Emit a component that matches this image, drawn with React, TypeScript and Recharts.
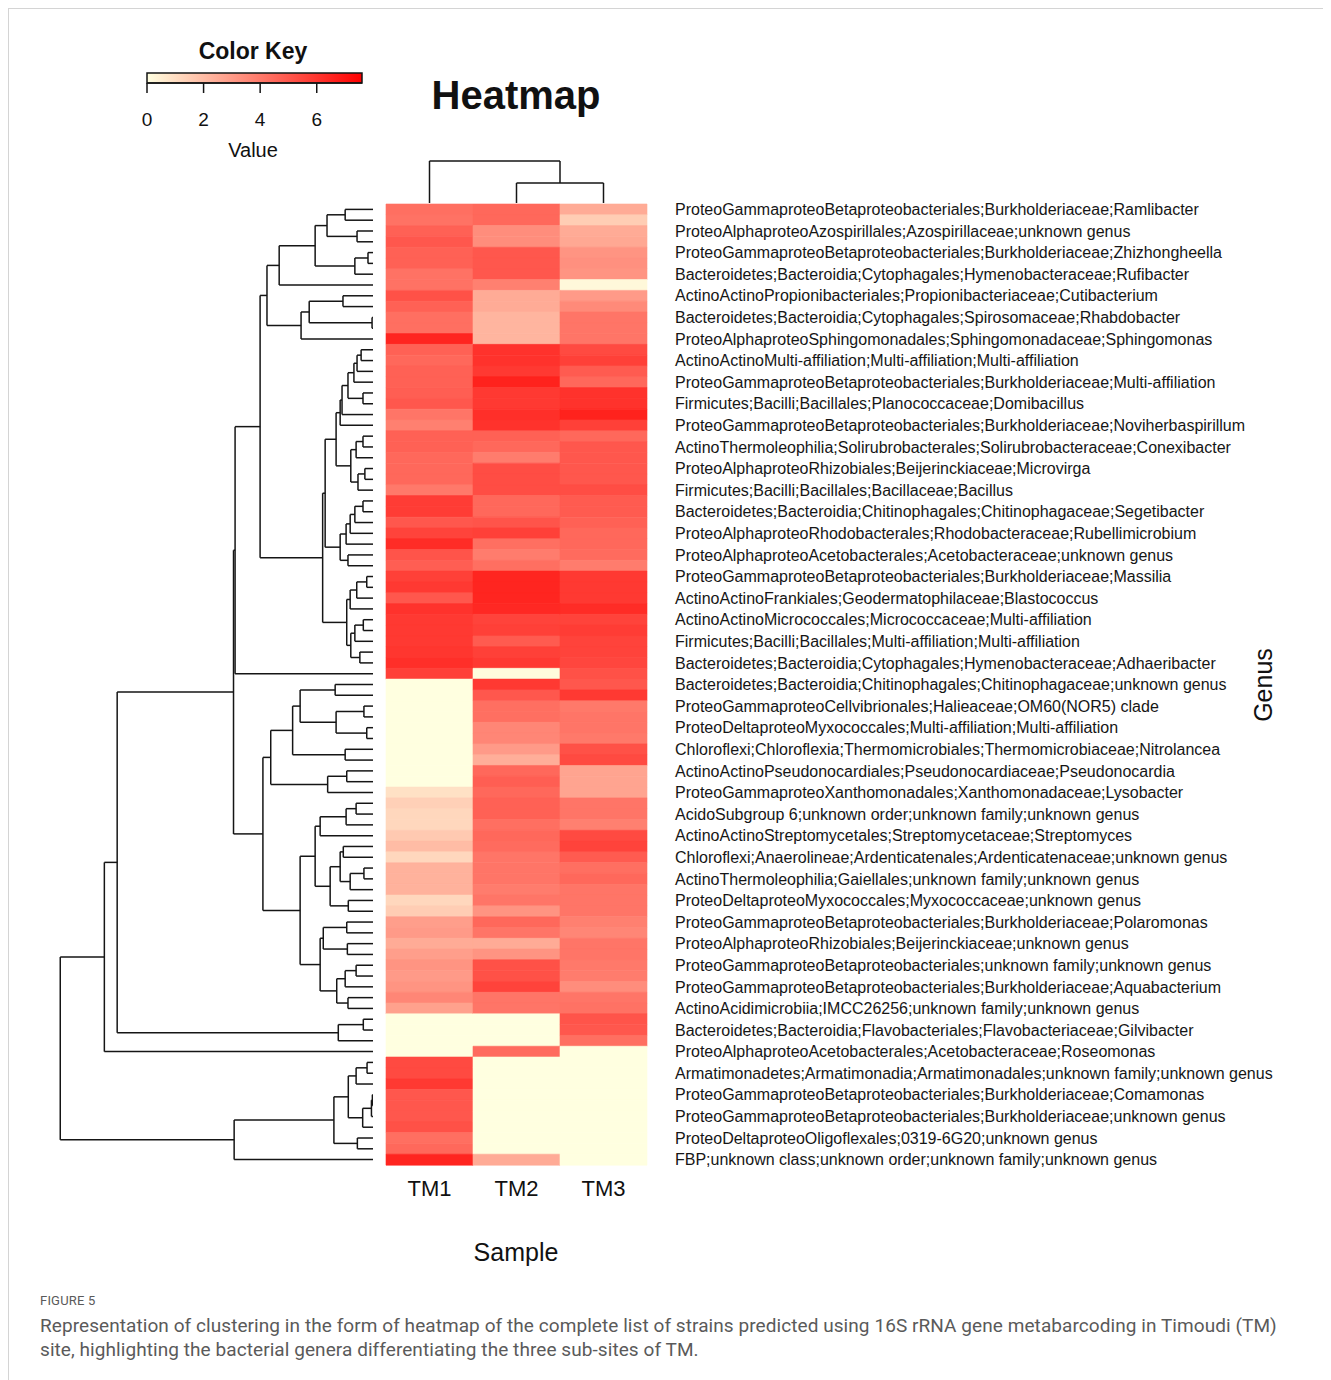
import React from 'react';
import { BarChart, Bar, XAxis, YAxis, Cell, ScatterChart, Scatter, ReferenceLine } from 'recharts';

const samples = ['TM1', 'TM2', 'TM3'];

const genusLabels = [
  'ProteoGammaproteoBetaproteobacteriales;Burkholderiaceae;Ramlibacter',
  'ProteoAlphaproteoAzospirillales;Azospirillaceae;unknown genus',
  'ProteoGammaproteoBetaproteobacteriales;Burkholderiaceae;Zhizhongheella',
  'Bacteroidetes;Bacteroidia;Cytophagales;Hymenobacteraceae;Rufibacter',
  'ActinoActinoPropionibacteriales;Propionibacteriaceae;Cutibacterium',
  'Bacteroidetes;Bacteroidia;Cytophagales;Spirosomaceae;Rhabdobacter',
  'ProteoAlphaproteoSphingomonadales;Sphingomonadaceae;Sphingomonas',
  'ActinoActinoMulti-affiliation;Multi-affiliation;Multi-affiliation',
  'ProteoGammaproteoBetaproteobacteriales;Burkholderiaceae;Multi-affiliation',
  'Firmicutes;Bacilli;Bacillales;Planococcaceae;Domibacillus',
  'ProteoGammaproteoBetaproteobacteriales;Burkholderiaceae;Noviherbaspirillum',
  'ActinoThermoleophilia;Solirubrobacterales;Solirubrobacteraceae;Conexibacter',
  'ProteoAlphaproteoRhizobiales;Beijerinckiaceae;Microvirga',
  'Firmicutes;Bacilli;Bacillales;Bacillaceae;Bacillus',
  'Bacteroidetes;Bacteroidia;Chitinophagales;Chitinophagaceae;Segetibacter',
  'ProteoAlphaproteoRhodobacterales;Rhodobacteraceae;Rubellimicrobium',
  'ProteoAlphaproteoAcetobacterales;Acetobacteraceae;unknown genus',
  'ProteoGammaproteoBetaproteobacteriales;Burkholderiaceae;Massilia',
  'ActinoActinoFrankiales;Geodermatophilaceae;Blastococcus',
  'ActinoActinoMicrococcales;Micrococcaceae;Multi-affiliation',
  'Firmicutes;Bacilli;Bacillales;Multi-affiliation;Multi-affiliation',
  'Bacteroidetes;Bacteroidia;Cytophagales;Hymenobacteraceae;Adhaeribacter',
  'Bacteroidetes;Bacteroidia;Chitinophagales;Chitinophagaceae;unknown genus',
  'ProteoGammaproteoCellvibrionales;Halieaceae;OM60(NOR5) clade',
  'ProteoDeltaproteoMyxococcales;Multi-affiliation;Multi-affiliation',
  'Chloroflexi;Chloroflexia;Thermomicrobiales;Thermomicrobiaceae;Nitrolancea',
  'ActinoActinoPseudonocardiales;Pseudonocardiaceae;Pseudonocardia',
  'ProteoGammaproteoXanthomonadales;Xanthomonadaceae;Lysobacter',
  'AcidoSubgroup 6;unknown order;unknown family;unknown genus',
  'ActinoActinoStreptomycetales;Streptomycetaceae;Streptomyces',
  'Chloroflexi;Anaerolineae;Ardenticatenales;Ardenticatenaceae;unknown genus',
  'ActinoThermoleophilia;Gaiellales;unknown family;unknown genus',
  'ProteoDeltaproteoMyxococcales;Myxococcaceae;unknown genus',
  'ProteoGammaproteoBetaproteobacteriales;Burkholderiaceae;Polaromonas',
  'ProteoAlphaproteoRhizobiales;Beijerinckiaceae;unknown genus',
  'ProteoGammaproteoBetaproteobacteriales;unknown family;unknown genus',
  'ProteoGammaproteoBetaproteobacteriales;Burkholderiaceae;Aquabacterium',
  'ActinoAcidimicrobiia;IMCC26256;unknown family;unknown genus',
  'Bacteroidetes;Bacteroidia;Flavobacteriales;Flavobacteriaceae;Gilvibacter',
  'ProteoAlphaproteoAcetobacterales;Acetobacteraceae;Roseomonas',
  'Armatimonadetes;Armatimonadia;Armatimonadales;unknown family;unknown genus',
  'ProteoGammaproteoBetaproteobacteriales;Burkholderiaceae;Comamonas',
  'ProteoGammaproteoBetaproteobacteriales;Burkholderiaceae;unknown genus',
  'ProteoDeltaproteoOligoflexales;0319-6G20;unknown genus',
  'FBP;unknown class;unknown order;unknown family;unknown genus',
];

const tm1 = [
  4.3, 4.2, 4.7, 5.0, 4.7, 4.7, 4.2, 4.2, 5.2, 4.7,
  4.3, 4.3, 6.5, 4.7, 4.5, 4.7, 4.7, 4.8, 5.0, 4.1,
  3.8, 4.7, 4.7, 4.5, 4.5, 4.5, 4.0, 5.8, 5.8, 5.0,
  5.6, 6.3, 5.1, 4.8, 5.7, 5.9, 5.0, 6.1, 5.9, 5.9,
  5.9, 6.0, 6.2, 5.7, 0, 0, 0, 0, 0, 0,
  0, 0, 0, 0, 0.9, 1.4, 1.2, 1.2, 1.6, 2.0,
  1.2, 2.3, 2.3, 2.3, 1.2, 1.5, 2.9, 3.0, 2.5, 2.9,
  3.2, 3.0, 3.2, 3.6, 2.8, 0, 0, 0, 0, 5.4,
  5.4, 5.9, 5.0, 5.0, 5.0, 5.2, 4.3, 4.5, 6.5,
];
const tm2 = [
  4.5, 4.5, 3.4, 3.4, 5.0, 5.0, 5.0, 3.8, 2.5, 2.5,
  2.2, 2.2, 2.2, 6.1, 6.1, 5.9, 6.6, 5.9, 5.9, 6.2,
  6.1, 4.7, 4.5, 3.9, 5.3, 5.3, 5.3, 4.5, 4.5, 5.1,
  5.7, 4.3, 3.9, 4.3, 6.5, 6.5, 6.5, 6.4, 5.6, 5.7,
  4.9, 5.7, 5.9, 0.1, 5.9, 5.0, 4.3, 4.3, 3.6, 3.6,
  3.0, 2.4, 4.5, 4.8, 4.5, 4.7, 4.7, 4.3, 4.5, 4.4,
  4.1, 4.1, 4.1, 3.9, 4.1, 3.2, 4.5, 4.1, 2.5, 3.2,
  5.2, 5.2, 5.6, 4.1, 4.1, 0, 0, 0, 4.4, 0,
  0, 0, 0, 0, 0, 0, 0, 0, 2.5,
];
const tm3 = [
  2.5, 1.5, 2.5, 2.6, 3.2, 3.3, 3.2, 0.2, 3.0, 3.5,
  4.1, 4.1, 4.1, 5.4, 5.7, 4.9, 4.5, 6.1, 6.1, 6.6,
  5.7, 4.5, 5.0, 5.0, 5.0, 5.0, 5.3, 4.9, 4.9, 4.7,
  4.5, 4.5, 4.4, 3.9, 5.9, 5.9, 5.9, 6.3, 5.6, 5.8,
  5.6, 5.6, 5.5, 5.2, 5.0, 5.9, 4.0, 4.1, 4.1, 4.0,
  5.2, 5.4, 2.7, 2.7, 2.7, 4.1, 4.1, 3.8, 5.4, 5.6,
  4.9, 4.3, 4.5, 4.1, 4.1, 4.1, 3.8, 3.6, 4.1, 4.1,
  4.0, 3.9, 3.4, 4.1, 4.2, 5.1, 5.0, 4.3, 0, 0,
  0, 0, 0, 0, 0, 0, 0, 0, 0,
];

const keyTicks = [0, 2, 4, 6];
const keyMax = 7.6;

type TreeNode = number | [TreeNode, TreeNode, number];

// Row dendrogram: [left, right, merge height]; numbers are row indices
const rowTree: TreeNode = [
  [
    [
      [
        [
          [
            [
              [[[[0, 1, 8.9], [2, 3, 5.1], 14.7], [[4, 5, 1.6], 6, 5.8], 18.5], 7, 30.0],
              [[[8, 9, 9.6], [10, 11, 0.3], 20.4], 12, 23.0],
              33.9,
            ],
            [
              [
                [
                  [[[[[[13, 14, 3.8], 15, 5.1], 16, 6.1], [17, 18, 3.2], 8.0], 19, 9.9], 20, 10.5],
                  [[[21, 22, 3.2], 23, 5.4], [[24, 25, 2.6], 26, 4.8], 7.1],
                  11.8,
                ],
                [[[[[27, 28, 3.2], 29, 5.8], 30, 7.3], 31, 8.6], [32, 33, 8.0], 10.5],
                15.3,
              ],
              [[[[34, 35, 2.0], 36, 5.2], 37, 7.3], [[[38, 39, 3.1], 40, 5.8], [41, 42, 4.2], 7.1], 8.4],
              16.1,
            ],
            36.1,
          ],
          43,
          44.1,
        ],
        [
          [[[[44, 45, 12.1], [[46, 47, 2.9], [48, 49, 2.0], 11.8], 23.3], [50, 51, 8.9], 25.7], [[52, 53, 8.4], 54, 14.5], 32.7],
          [
            [
              [[[55, 56, 5.4], 57, 8.6], 58, 16.9],
              [[[59, 60, 9.5], [[61, 62, 2.9], 63, 7.3], 10.5], [64, 65, 7.9], 13.7],
              18.5,
            ],
            [[[66, 67, 8.4], [68, 69, 8.2], 15.9], [[[70, 71, 5.4], 72, 8.9], [73, 74, 8.0], 11.6], 16.9],
            23.3,
          ],
          35.2,
        ],
        44.6,
      ],
      [[75, 76, 3.1], 77, 11.1],
      81.8,
    ],
    78,
    85.9,
  ],
  [[[[[79, 80, 1.9], 81, 5.4], [[[82, 83, 0.2], 84, 0.5], 85, 3.3], 7.9], [86, 87, 5.0], 12.5], 88, 44.4],
  100,
];

// Column dendrogram
const colTree: TreeNode = [0, [1, 2, 2.0], 4.2];

const rows = tm1.map((v, i) => ({ id: i, TM1: v, TM2: tm2[i], TM3: tm3[i] }));

const heatColor = (v: number) => {
  const t = Math.max(0, Math.min(1, v / keyMax));
  const g = Math.round(255 * (1 - t));
  const b = Math.round(224 * (1 - t));
  return `rgb(255,${g},${b})`;
};

type Seg = { p1: number; h1: number; p2: number; h2: number };
const buildSegments = (tree: TreeNode) => {
  const segs: Seg[] = [];
  const walk = (n: TreeNode): { p: number; h: number } => {
    if (typeof n === 'number') return { p: n + 0.5, h: 0 };
    const l = walk(n[0]);
    const r = walk(n[1]);
    const h = n[2];
    segs.push({ p1: l.p, h1: l.h, p2: l.p, h2: h });
    segs.push({ p1: r.p, h1: r.h, p2: r.p, h2: h });
    segs.push({ p1: l.p, h1: h, p2: r.p, h2: h });
    return { p: (l.p + r.p) / 2, h };
  };
  walk(tree);
  return segs;
};

const rowSegs = buildSegments(rowTree);
const colSegs = buildSegments(colTree);
const rowLeafPts = rows.map((r) => ({ h: 0, y: r.id + 0.5 }));
const colLeafPts = samples.map((s, i) => ({ x: i + 0.5, h: 0 }));
const keyData = [{ k: 'Value', v: keyMax }];

const FONT = 'Liberation Sans, Arial, Helvetica, sans-serif';
const LINE = '#151515';
const O = 9; // page offset (body margin + border)

const emptyShape = () => <g />;

export default function App() {
  return (
    <div
      style={{
        position: 'relative',
        width: 1323,
        height: 1372,
        borderTop: '1px solid #d4d4d4',
        borderLeft: '1px solid #d4d4d4',
        background: '#fff',
        fontFamily: FONT,
      }}
    >
      {/* Heatmap */}
      <div style={{ position: 'absolute', left: 0, top: 0 }}>
        <BarChart
          width={1322}
          height={1280}
          data={rows}
          layout="vertical"
          barCategoryGap={0}
          barGap={0}
          margin={{ top: 195, right: 84, bottom: 64, left: 377 }}
        >
          <XAxis
            type="number"
            domain={[0, 3]}
            ticks={[0.5, 1.5, 2.5]}
            tickFormatter={(v: number) => samples[Math.floor(v)]}
            axisLine={false}
            tickLine={false}
            tickSize={0}
            tickMargin={15}
            height={60}
            tick={{ fontSize: 22, fill: '#111', fontFamily: FONT }}
          />
          <YAxis
            type="category"
            dataKey="id"
            orientation="right"
            width={600}
            interval={1}
            axisLine={false}
            tickLine={false}
            tickSize={0}
            tickMargin={28}
            tickFormatter={(v: number) => genusLabels[v / 2] ?? ''}
            tick={{ fontSize: 16, fill: '#161616', fontFamily: FONT, textAnchor: 'start' }}
          />
          {samples.map((s) => (
            <Bar key={s} dataKey={() => 1} stackId="heat" isAnimationActive={false}>
              {rows.map((r) => (
                <Cell
                  key={`${s}-${r.id}`}
                  fill={heatColor((r as any)[s])}
                  stroke={heatColor((r as any)[s])}
                  strokeWidth={0.6}
                />
              ))}
            </Bar>
          ))}
        </BarChart>
      </div>

      {/* Row dendrogram */}
      <div style={{ position: 'absolute', left: 33, top: 204 - O }}>
        <ScatterChart width={331} height={961} margin={{ top: 0, right: 0, bottom: 0, left: 12 }}>
          <XAxis type="number" dataKey="h" domain={[0, 102]} reversed hide />
          <YAxis type="number" dataKey="y" domain={[0, 89]} reversed hide />
          <Scatter data={rowLeafPts} shape={emptyShape} isAnimationActive={false} />
          {rowSegs.map((s, i) => (
            <ReferenceLine
              key={i}
              segment={[
                { x: s.h1, y: s.p1 },
                { x: s.h2, y: s.p2 },
              ]}
              stroke={LINE}
              strokeWidth={1.5}
              ifOverflow="visible"
            />
          ))}
        </ScatterChart>
      </div>

      {/* Column dendrogram */}
      <div style={{ position: 'absolute', left: 386 - O, top: 160 - O }}>
        <ScatterChart width={261} height={43} margin={{ top: 0, right: 0, bottom: 0, left: 0 }}>
          <XAxis type="number" dataKey="x" domain={[0, 3]} hide />
          <YAxis type="number" dataKey="h" domain={[0, 4.3]} hide />
          <Scatter data={colLeafPts} shape={emptyShape} isAnimationActive={false} />
          {colSegs.map((s, i) => (
            <ReferenceLine
              key={i}
              segment={[
                { x: s.p1, y: s.h1 },
                { x: s.p2, y: s.h2 },
              ]}
              stroke={LINE}
              strokeWidth={1.5}
              ifOverflow="visible"
            />
          ))}
        </ScatterChart>
      </div>

      {/* Color key */}
      <div style={{ position: 'absolute', left: 127 - O, top: 31 - O }}>
        <BarChart
          width={260}
          height={140}
          data={keyData}
          layout="vertical"
          barCategoryGap={0}
          margin={{ top: 42, right: 25, bottom: 38, left: 20 }}
        >
          <defs>
            <linearGradient id="keyGrad" x1="0" y1="0" x2="1" y2="0">
              <stop offset="0%" stopColor={heatColor(0)} />
              <stop offset="50%" stopColor={heatColor(keyMax / 2)} />
              <stop offset="100%" stopColor={heatColor(keyMax)} />
            </linearGradient>
          </defs>
          <XAxis
            type="number"
            domain={[0, keyMax]}
            ticks={keyTicks}
            tickSize={10}
            tickMargin={20}
            height={50}
            axisLine={{ stroke: LINE, strokeWidth: 1.5 }}
            tickLine={{ stroke: LINE, strokeWidth: 1.5 }}
            tick={{ fontSize: 19, fill: '#111', fontFamily: FONT }}
          />
          <YAxis type="category" dataKey="k" hide />
          <Bar dataKey="v" fill="url(#keyGrad)" stroke={LINE} strokeWidth={1.5} isAnimationActive={false} />
        </BarChart>
      </div>

      {/* Titles */}
      <svg
        width={1322}
        height={1280}
        style={{ position: 'absolute', left: 0, top: 0, pointerEvents: 'none' }}
      >
        <text x={253 - O} y={59 - O} textAnchor="middle" fontFamily={FONT} fontWeight="bold" fontSize={23} fill="#111">
          Color Key
        </text>
        <text x={253 - O} y={157 - O} textAnchor="middle" fontFamily={FONT} fontSize={20} fill="#111">
          Value
        </text>
        <text x={516 - O} y={109 - O} textAnchor="middle" fontFamily={FONT} fontWeight="bold" fontSize={40} fill="#111">
          Heatmap
        </text>
        <text x={516 - O} y={1261 - O} textAnchor="middle" fontFamily={FONT} fontSize={25} fill="#111">
          Sample
        </text>
        <text
          transform={`translate(${1272 - O},${685 - O}) rotate(-90)`}
          textAnchor="middle"
          fontFamily={FONT}
          fontSize={25}
          fill="#111"
        >
          Genus
        </text>
      </svg>

      {/* Caption */}
      <div
        style={{
          position: 'absolute',
          left: 40 - O,
          top: 1293 - O,
          fontFamily: 'Roboto, "Open Sans", sans-serif',
          color: '#5a5a5a',
        }}
      >
        <div style={{ fontSize: 13, letterSpacing: 0.2 }}>FIGURE 5</div>
        <div style={{ fontSize: 19, lineHeight: '24px', marginTop: 6, whiteSpace: 'nowrap', letterSpacing: 0.07 }}>
          Representation of clustering in the form of heatmap of the complete list of strains predicted using 16S rRNA gene metabarcoding in Timoudi (TM)
          <br />
          site, highlighting the bacterial genera differentiating the three sub-sites of TM.
        </div>
      </div>
    </div>
  );
}
